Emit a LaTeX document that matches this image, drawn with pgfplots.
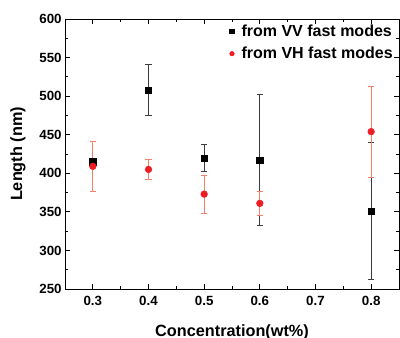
\documentclass[border=0pt]{standalone}
\usepackage{fontspec}
\setmainfont{Liberation Sans}
\usepackage{pgfplots}
\pgfplotsset{compat=1.18}
\definecolor{mred}{RGB}{238,28,36}
\definecolor{ered}{RGB}{244,128,108}
\definecolor{egray}{RGB}{60,60,60}
\begin{document}
\begin{tikzpicture}
\useasboundingbox (-48.75pt,-36.75pt) rectangle (251.25pt,216.75pt);
\begin{axis}[
  scale only axis,
  width=250.5pt, height=202.5pt,
  xmin=0.25, xmax=0.85,
  ymin=250, ymax=600,
  xtick={0.3,0.4,0.5,0.6,0.7,0.8},
  xticklabels={0.3,0.4,0.5,0.6,0.7,0.8},
  minor xtick={0.25,0.35,0.45,0.55,0.65,0.75,0.85},
  ytick={250,300,...,600},
  minor ytick={275,325,...,575},
  tick align=inside,
  major tick length=4pt, minor tick length=2.5pt,
  tick style={black, line width=0.6pt},
  axis line style={line width=0.7pt},
  /pgf/number format/assume math mode=true,
  ticklabel style={font=\fontsize{10}{12}\selectfont\bfseries},
  xticklabel style={yshift=-1.5pt},
  yticklabel style={xshift=1pt},
  xlabel={\textbf{Concentration(wt\%)}},
  ylabel={\textbf{Length (nm)}},
  label style={font=\fontsize{12.2}{14}\selectfont},
  xlabel style={at={(axis description cs:0.5,-0.1593)}, anchor=center},
  ylabel style={at={(axis description cs:-0.1407,0.5)}, anchor=center},
  legend style={draw=none, fill=none, at={(0.99,0.99)}, anchor=north east,
    font=\fontsize{12}{13}\selectfont\bfseries, row sep=2.5pt, inner sep=0pt,
    /tikz/every odd column/.append style={column sep=3.5pt}},
  legend cell align=left,
  legend image code/.code={\draw[#1, mark size=1.7pt] plot coordinates {(0cm,0cm)};},
]
\addplot[only marks, mark=square*, mark size=2.3pt, black,
  error bars/.cd, y dir=both, y explicit,
  error bar style={egray, line width=0.5pt},
  error mark options={rotate=90, mark size=2.3pt, egray}]
  coordinates {
  (0.3,415) +- (0,5)
  (0.4,508) +- (0,33)
  (0.5,420) +- (0,18)
  (0.6,417) +- (0,85)
  (0.8,351) +- (0,89)
  };
\addlegendentry{from VV fast modes}
\addplot[only marks, mark=*, mark size=2.5pt, mred,
  error bars/.cd, y dir=both, y explicit,
  error bar style={ered, line width=0.5pt},
  error mark options={rotate=90, mark size=2.3pt, ered}]
  coordinates {
  (0.3,409) +- (0,32)
  (0.4,405) +- (0,13)
  (0.5,373) +- (0,25)
  (0.6,361) +- (0,16)
  (0.8,454) +- (0,59)
  };
\addlegendentry{from VH fast modes}
\end{axis}
\end{tikzpicture}
\end{document}
